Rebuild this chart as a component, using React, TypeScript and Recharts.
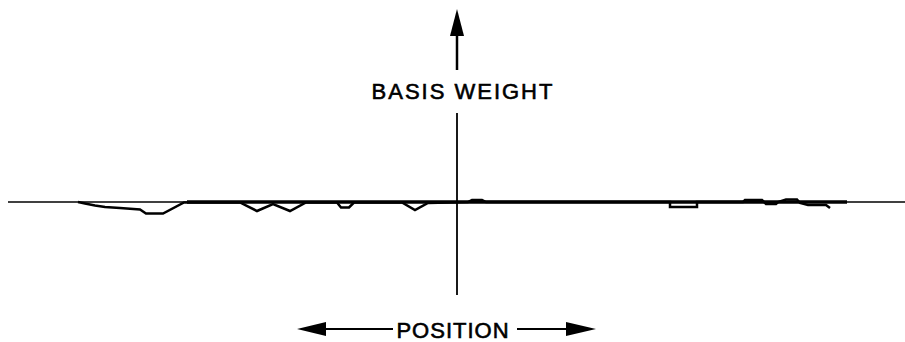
import { LineChart, Line, XAxis, YAxis, ReferenceLine } from "recharts";

// position along the web (px from the vertical axis) and basis weight deviation
const positions = [
  -379, -372, -362, -352, -337, -317, -311, -294, -273, -217, -200, -184, -167,
  -151, -120, -116, -108, -103, -55, -42, -29, 11, 15, 25, 29, 213, 213, 240,
  240, 286, 288, 305, 309, 319, 321, 329, 340, 343, 351, 369, 373,
];
const weights = [
  0, -1.5, -3.5, -5, -6, -7.5, -11.5, -11.5, -0.5, -0.5, -9, -2, -9, -0.5, -0.5,
  -5.5, -5.5, -0.5, -0.5, -8, -1, 0, 2, 2, 0, 0, -5, -5, 0, 0, 2, 2, -2, -2, 0,
  2.5, 2.5, -1, -3, -3, -6,
];

const profile = positions.map((x, i) => ({ x, w: weights[i] }));

const W = 905;
const H = 342;

export default function App() {
  return (
    <div
      style={{
        position: "absolute",
        left: 0,
        top: 0,
        width: W,
        height: H,
        background: "#fff",
        fontFamily: "'Liberation Sans', Arial, sans-serif",
      }}
    >
      <LineChart
        width={W}
        height={H}
        data={profile}
        margin={{ top: 0, right: 0, bottom: 0, left: 0 }}
      >
        <XAxis type="number" dataKey="x" domain={[-457, 448]} hide />
        <YAxis type="number" domain={[-140, 202]} hide />
        <ReferenceLine
          segment={[
            { x: -449, y: 0 },
            { x: 448, y: 0 },
          ]}
          stroke="#000"
          strokeWidth={1.6}
        />
        <ReferenceLine
          segment={[
            { x: -270, y: 0 },
            { x: 390, y: 0 },
          ]}
          stroke="#000"
          strokeWidth={3.5}
        />
        <ReferenceLine
          segment={[
            { x: 0, y: 170 },
            { x: 0, y: 132 },
          ]}
          stroke="#000"
          strokeWidth={2.5}
        />
        <ReferenceLine
          segment={[
            { x: 0, y: 89 },
            { x: 0, y: -93 },
          ]}
          stroke="#000"
          strokeWidth={1.8}
        />
        <Line
          type="linear"
          dataKey="w"
          stroke="#000"
          strokeWidth={2.5}
          dot={false}
          activeDot={false}
          isAnimationActive={false}
        />
      </LineChart>
      <svg
        width={W}
        height={H}
        style={{ position: "absolute", left: 0, top: 0, pointerEvents: "none" }}
      >
        <polygon points="457,9 450,36 464,36" fill="#000" />
        <text
          x={463}
          y={99}
          textAnchor="middle"
          fontSize={22}
          letterSpacing={2}
          fill="#000"
          stroke="#000"
          strokeWidth={0.6}
        >
          BASIS WEIGHT
        </text>
        <polygon points="297,329 326,322 326,336" fill="#000" />
        <line x1={323} y1={329} x2={393} y2={329} stroke="#000" strokeWidth={2} />
        <text
          x={453}
          y={338}
          textAnchor="middle"
          fontSize={22}
          letterSpacing={1}
          fill="#000"
          stroke="#000"
          strokeWidth={0.6}
        >
          POSITION
        </text>
        <line x1={517} y1={329} x2={568} y2={329} stroke="#000" strokeWidth={2} />
        <polygon points="596,329 566,322 566,336" fill="#000" />
      </svg>
    </div>
  );
}
